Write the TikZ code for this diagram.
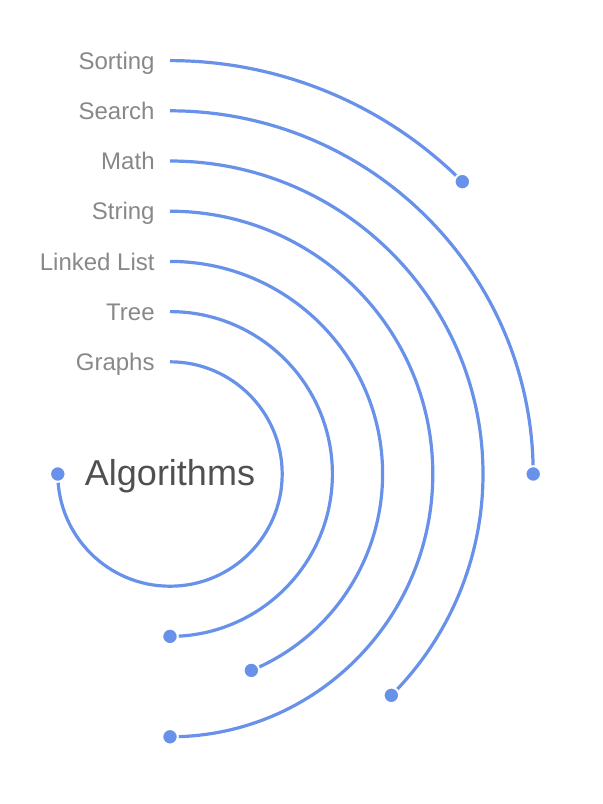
\documentclass[tikz,border=0pt]{standalone}
\usepackage{fontspec}
\setmainfont{Liberation Sans}
\begin{document}
\definecolor{barblue}{RGB}{104,145,233}
\definecolor{labelgray}{RGB}{136,136,136}
\definecolor{titlegray}{RGB}{80,80,80}
\begin{tikzpicture}[x=0.5pt,y=0.5pt,
  bar/.style={draw=barblue,line width=1.6pt},
  enddot/.style={circle,fill=barblue,draw=white,line width=1pt,inner sep=0pt,minimum size=7.8pt},
  catlabel/.style={anchor=base east,inner sep=0pt,text=labelgray,font=\fontsize{12pt}{14pt}\selectfont},
  title/.style={anchor=base,inner sep=0pt,text=titlegray,font=\fontsize{18pt}{21pt}\selectfont}]
\useasboundingbox (0,0) rectangle (602,-804);
\coordinate (C) at (170,-474);

% radial bars: name / radius (pt) / sweep angle (clockwise from top)
\foreach \nm/\lbl/\r/\s in {graphs/Graphs/56.1/270, tree/Tree/81.2/180, linked/Linked List/106.3/157.5,
    string/String/131.4/180, math/Math/156.5/135, search/Search/181.6/90, sorting/Sorting/206.7/45}{
  \draw[bar] (C) ++(0,\r pt) coordinate (\nm-start)
    arc[start angle=90,end angle=90-\s,radius=\r pt] coordinate (\nm-end);
  \node[catlabel] (\nm-label) at ([xshift=-7.5pt,yshift=-4.3pt]\nm-start) {\lbl};
}
\foreach \nm in {graphs,tree,linked,string,math,search,sorting}{
  \node[enddot] (\nm-dot) at (\nm-end) {};
}
\node[title] (center-title) at ([yshift=-5.5pt]C) {Algorithms};
\end{tikzpicture}
\end{document}
